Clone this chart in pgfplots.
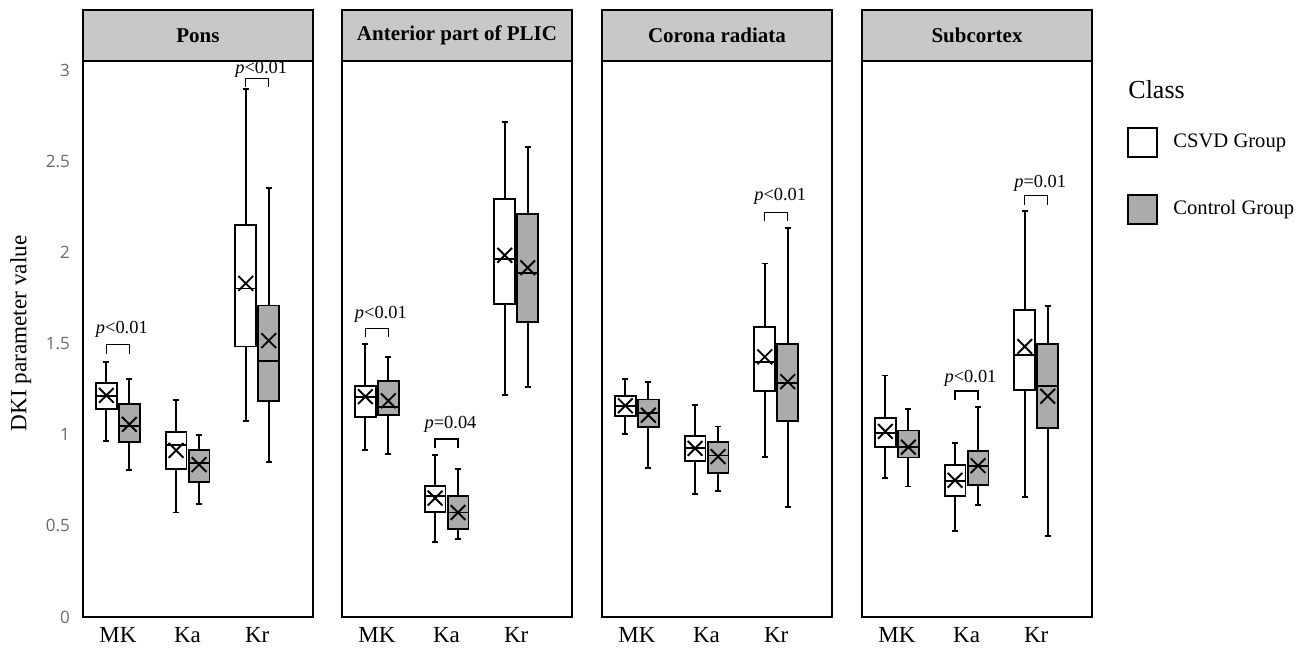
\documentclass[border=0pt]{standalone}
\usepackage{fontspec}
\setmainfont{Liberation Serif}
\newfontfamily\tickfont{Open Sans}
\usepackage{pgfplots}
\pgfplotsset{compat=1.18}
\usepgfplotslibrary{statistics}
\definecolor{hdr}{RGB}{200,200,200}
\definecolor{ctl}{RGB}{173,170,170}
\definecolor{tickgray}{RGB}{105,105,105}

\pgfplotsset{panel/.style={
  width=115pt, height=278pt, scale only axis,
  anchor=south west,
  xmin=0.5, xmax=3.8, ymin=0, ymax=3.05,
  xtick={1,2,3}, xticklabels={MK,Ka,Kr},
  ytick={0,0.5,1,1.5,2,2.5,3},
  major tick length=0pt,
  axis line style={line width=0.8pt},
  xticklabel style={font=\fontsize{11.5}{12}\selectfont, yshift=-1.5pt},
  yticklabels={},
  clip=false,
  boxplot/draw direction=y,
  boxplot/box extend=0.3,
  boxplot/whisker extend=0.09,
  boxplot/every average/.style={/tikz/mark=x, /tikz/mark size=5.2pt,
    /tikz/mark options={solid, line width=0.75pt, draw=black}},
}}

% draw position, lower whisker, lower quartile, median, upper quartile, upper whisker, mean, fill
\newcommand{\bx}[8]{\addplot[boxplot prepared={draw position=#1, lower whisker=#2,
  lower quartile=#3, median=#4, upper quartile=#5, upper whisker=#6, average=#7},
  draw=black, fill=#8, line width=0.95pt] coordinates {};}
% bracket: category, top, label, label offset
\newcommand{\br}[4]{%
  \draw[line width=0.65pt] (axis cs:{#1-0.165},{#2-0.05}) -- (axis cs:{#1-0.165},#2)
    -- (axis cs:{#1+0.165},#2) -- (axis cs:{#1+0.165},{#2-0.05});
  \node[font=\fontsize{9.2}{10}\selectfont, xshift=2pt] at (axis cs:#1,{#2+#4}) {#3};}
\newcommand{\hd}[1]{%
  \draw[fill=hdr, line width=0.8pt] (rel axis cs:0,1) rectangle ([yshift=25.5pt]rel axis cs:1,1);
  \node[font=\bfseries\fontsize{10.5}{12}\selectfont] at ([yshift=12.75pt]rel axis cs:0.5,1) {#1};}

\begin{document}
\begin{tikzpicture}
\useasboundingbox (0,0) rectangle (653pt,324pt);

\begin{axis}[panel, at={(41.5pt,15.5pt)},
  yticklabels={0,0.5,1,1.5,2,2.5,3},
  yticklabel style={font=\tickfont\fontsize{8.5}{10}\selectfont, text=tickgray, xshift=-3pt},
  ylabel={DKI parameter value},
  ylabel style={at={(axis description cs:-0.27,0.51)}, anchor=center, font=\fontsize{11.6}{12}\selectfont}]
\hd{Pons}
\bx{0.835}{0.966}{1.143}{1.21}{1.284}{1.40}{1.216}{white}
\bx{1.165}{0.807}{0.961}{1.05}{1.17}{1.307}{1.057}{ctl}
\bx{1.835}{0.573}{0.811}{0.943}{1.016}{1.189}{0.914}{white}
\bx{2.165}{0.62}{0.739}{0.845}{0.914}{1.0}{0.836}{ctl}
\bx{2.835}{1.075}{1.484}{1.802}{2.148}{2.898}{1.83}{white}
\bx{3.165}{0.852}{1.186}{1.405}{1.709}{2.352}{1.516}{ctl}
\br{1}{1.493}{\textit{p}<0.01}{0.087}
\br{3}{2.955}{\textit{p}<0.01}{0.05}
\end{axis}

\begin{axis}[panel, at={(171pt,15.5pt)}]
\hd{Anterior part of PLIC}
\bx{0.835}{0.916}{1.098}{1.205}{1.268}{1.5}{1.209}{white}
\bx{1.165}{0.893}{1.109}{1.152}{1.295}{1.427}{1.186}{ctl}
\bx{1.835}{0.409}{0.575}{0.664}{0.72}{0.891}{0.652}{white}
\bx{2.165}{0.427}{0.482}{0.573}{0.664}{0.811}{0.573}{ctl}
\bx{2.835}{1.216}{1.716}{1.966}{2.295}{2.716}{1.984}{white}
\bx{3.165}{1.261}{1.618}{1.886}{2.209}{2.58}{1.916}{ctl}
\br{1}{1.584}{\textit{p}<0.01}{0.075}
\br{2}{0.977}{\textit{p}=0.04}{0.08}
\end{axis}

\begin{axis}[panel, at={(301pt,15.5pt)}]
\hd{Corona radiata}
\bx{0.835}{1.005}{1.102}{1.155}{1.211}{1.307}{1.159}{white}
\bx{1.165}{0.818}{1.041}{1.12}{1.193}{1.291}{1.107}{ctl}
\bx{1.835}{0.675}{0.857}{0.925}{0.995}{1.164}{0.925}{white}
\bx{2.165}{0.693}{0.791}{0.886}{0.961}{1.045}{0.88}{ctl}
\bx{2.835}{0.88}{1.239}{1.398}{1.591}{1.939}{1.427}{white}
\bx{3.165}{0.602}{1.073}{1.284}{1.5}{2.136}{1.291}{ctl}
\br{3}{2.22}{\textit{p}<0.01}{0.085}
\end{axis}

\begin{axis}[panel, at={(431pt,15.5pt)}]
\hd{Subcortex}
\bx{0.835}{0.761}{0.932}{1.011}{1.091}{1.325}{1.018}{white}
\bx{1.165}{0.716}{0.875}{0.932}{1.023}{1.143}{0.932}{ctl}
\bx{1.835}{0.47}{0.666}{0.745}{0.836}{0.955}{0.75}{white}
\bx{2.165}{0.614}{0.723}{0.83}{0.909}{1.152}{0.83}{ctl}
\bx{2.835}{0.659}{1.243}{1.439}{1.682}{2.227}{1.484}{white}
\bx{3.165}{0.443}{1.039}{1.268}{1.5}{1.705}{1.211}{ctl}
\br{2}{1.239}{\textit{p}<0.01}{0.07}
\br{3}{2.311}{\textit{p}=0.01}{0.07}
\end{axis}

% legend
\node[anchor=west, font=\fontsize{13}{14}\selectfont, inner sep=0pt] at (564pt,279pt) {Class};
\draw[line width=1.2pt, fill=white] (564pt,245.5pt) rectangle (578.5pt,260pt);
\node[anchor=west, font=\fontsize{10.3}{12}\selectfont, inner sep=0pt] at (586.5pt,252.5pt) {CSVD Group};
\draw[line width=1.2pt, fill=ctl] (564pt,212pt) rectangle (578.5pt,226.5pt);
\node[anchor=west, font=\fontsize{10.3}{12}\selectfont, inner sep=0pt] at (586.5pt,219pt) {Control Group};
\end{tikzpicture}
\end{document}
